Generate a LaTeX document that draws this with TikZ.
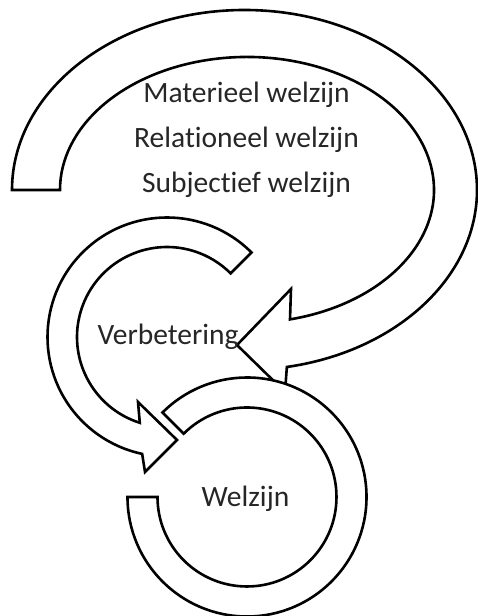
\documentclass[tikz,border=0pt]{standalone}
\usepackage{fontspec}
\setmainfont[Ligatures={NoCommon}]{Carlito}
\begin{document}
\begin{tikzpicture}[x=1pt,y=1pt,
  band/.style={draw=black,line width=2.6pt,fill=white,line join=miter},
  lbl/.style={text=black!85,font=\fontsize{29.5}{31}\selectfont,anchor=base,inner sep=0pt}]
\useasboundingbox (0,0) rectangle (477,616);
% big arrow (top)
\path[band] (12,426) arc[start angle=180,end angle=-79.5,x radius=232.5,y radius=180]
  -- (285,224) -- (237,271) -- (291,327) -- (290,296.6)
  arc[start angle=-76.7,end angle=180,x radius=187,y radius=133] -- cycle;
% Verbetering arrow
\path[band] (251.5,363.5) arc[start angle=45,end angle=258,radius=119.5]
  -- (145,144) -- (177,176) -- (138,214) -- (139.8,193.2)
  arc[start angle=252.4,end angle=45,radius=90] -- cycle;
% Welzijn circle
\path[band] (127.5,119) arc[start angle=180,end angle=495,radius=119.5]
  -- (183.7,182.3) arc[start angle=135,end angle=-180,radius=89.5] -- cycle;
\node[lbl] (m) at (246.5,513) {Materieel welzijn};
\node[lbl] (r) at (246.5,468) {Relationeel welzijn};
\node[lbl] (s) at (246.5,423) {Subjectief welzijn};
\node[lbl] (v) at (168,271) {Verbetering};
\node[lbl] (w) at (245.5,109) {Welzijn};
\end{tikzpicture}
\end{document}
